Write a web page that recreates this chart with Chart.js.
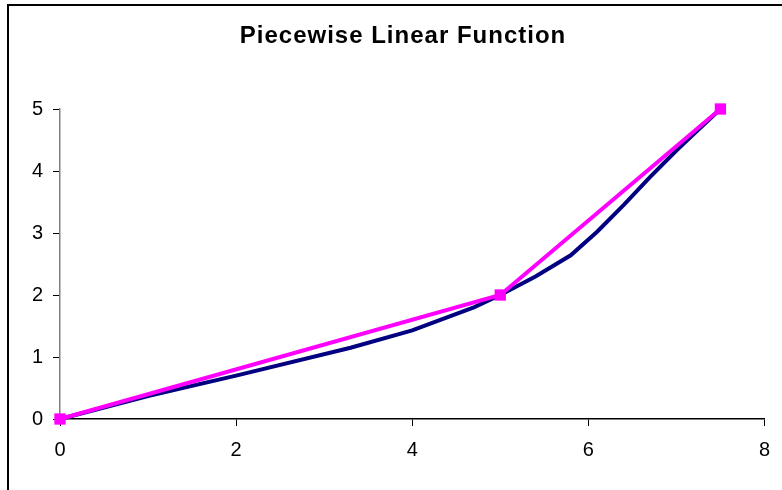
<!DOCTYPE html>
<html>
<head>
<meta charset="utf-8">
<script src="https://cdn.jsdelivr.net/npm/chart.js@4"></script>
<style>
  html, body { margin: 0; padding: 0; background: #fff; }
  #wrap { position: relative; width: 782px; height: 490px; overflow: hidden; }
  #frame { position: absolute; left: 7px; top: 4px; width: 900px; height: 600px; border-left: 2px solid #000; border-top: 2px solid #000; }
  canvas { position: absolute; left: 0; top: 0; }
</style>
</head>
<body>
<div id="wrap">
  <div id="frame"></div>
  <canvas id="chart" width="782" height="490"></canvas>
</div>
<script>
const chartTitle = 'Piecewise Linear Function';

// curve
const curveX = [0, 1, 2, 3.3, 4, 4.7, 5, 5.4, 5.8, 6.1, 6.4, 6.7, 7, 7.2, 7.5];
const curveY = [0, 0.37, 0.7, 1.15, 1.43, 1.8, 2, 2.3, 2.64, 3.02, 3.45, 3.9, 4.33, 4.6, 5];

// piecewise linear approximation
const pieceX = [0, 5, 7.5];
const pieceY = [0, 2, 5];

const xTicks = [0, 2, 4, 6, 8];
const yTicks = [0, 1, 2, 3, 4, 5];

const toPoints = (xs, ys) => xs.map((x, i) => ({ x: x, y: ys[i] }));

const font = 'Arial, "Liberation Sans", sans-serif';

// title drawn by hand so the letter spacing can follow the original
const titlePlugin = {
    id: 'spacedTitle',
    afterDraw(chart) {
        const ctx = chart.ctx;
        ctx.save();
        ctx.font = 'bold 24px ' + font;
        ctx.fillStyle = '#000';
        ctx.textAlign = 'center';
        ctx.textBaseline = 'alphabetic';
        if ('letterSpacing' in ctx) ctx.letterSpacing = '1px';
        ctx.fillText(chartTitle, 403, 43);
        ctx.restore();
    }
};

new Chart(document.getElementById('chart').getContext('2d'), {
    type: 'scatter',
    data: {
        datasets: [
            {
                label: 'Piecewise',
                data: toPoints(pieceX, pieceY),
                showLine: true,
                borderColor: '#FF00FF',
                backgroundColor: '#FF00FF',
                borderWidth: 4,
                pointStyle: 'rect',
                pointRadius: 8,
                pointBorderWidth: 0,
                order: 1
            },
            {
                label: 'Function',
                data: toPoints(curveX, curveY),
                showLine: true,
                borderColor: '#000080',
                backgroundColor: '#000080',
                borderWidth: 4,
                pointRadius: 0,
                order: 2
            }
        ]
    },
    plugins: [titlePlugin],
    options: {
        responsive: false,
        animation: false,
        clip: false,
        layout: { padding: { left: 0, right: 13, top: 109, bottom: 0 } },
        plugins: {
            legend: { display: false },
            tooltip: { enabled: false },
            title: { display: false }
        },
        scales: {
            x: {
                type: 'linear',
                min: 0,
                max: 8,
                afterBuildTicks: scale => { scale.ticks = xTicks.map(v => ({ value: v })); },
                afterFit: scale => { scale.height = 71; },
                grid: { display: true, drawOnChartArea: false, drawTicks: true, tickLength: 7, color: '#000' },
                border: { display: true, color: '#000', width: 1.5 },
                ticks: { color: '#000', padding: 12, font: { family: font, size: 20 } }
            },
            y: {
                type: 'linear',
                min: 0,
                max: 5,
                afterBuildTicks: scale => { scale.ticks = yTicks.map(v => ({ value: v })); },
                afterFit: scale => { scale.width = 60; },
                grid: { display: true, drawOnChartArea: false, drawTicks: true, tickLength: 7, color: '#000' },
                border: { display: true, color: '#808080', width: 1.5 },
                ticks: { color: '#000', padding: 10, font: { family: font, size: 20 } }
            }
        }
    }
});
</script>
</body>
</html>
